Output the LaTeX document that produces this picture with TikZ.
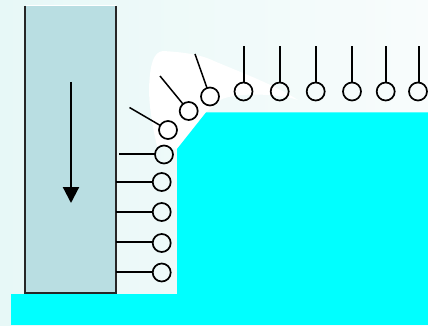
\documentclass[tikz,border=0pt]{standalone}
\usetikzlibrary{arrows.meta}
\definecolor{bgl}{HTML}{E7F8F7}
\definecolor{bgr}{HTML}{F8FCFC}
\definecolor{blockc}{HTML}{B9DEE2}
\definecolor{cyansolid}{HTML}{00FFFF}
\tikzset{
  bead/.style={circle,draw=black,line width=1.7pt,minimum size=18pt,inner sep=0pt,outer sep=0pt},
  tail/.style={draw=black,line width=1.9pt},
  slanted/.style={draw=black,line width=1.5pt},
  edgeline/.style={draw=black!85,line width=1.8pt}
}
\begin{document}
\begin{tikzpicture}[x=1pt,y=-1pt]
\useasboundingbox (0,0) rectangle (428,326);
\shade[left color=bgl,right color=bgr] (0,0) rectangle (428,326);
% white blob
\fill[white] (163,51) .. controls (180,52) and (200,54) .. (214,61)
  .. controls (240,72) and (275,85) .. (298,100)
  .. controls (280,94) and (240,92) .. (222,99)
  -- (205,113) -- (177,149) -- (157,146)
  .. controls (152,125) and (149,105) .. (149,88)
  .. controls (150,65) and (153,52) .. (163,51) -- cycle;
% solids
\fill[cyansolid] (11,294) rectangle (428,325);
\fill[cyansolid] (177,295) -- (177,149) -- (206,112.5) -- (428,112.5) -- (428,295) -- cycle;
% block
\fill[blockc] (25.5,6) rectangle (116,293);
\draw[white,line width=1pt] (25.5,6) -- (116,6);
\draw[edgeline] (25,6) -- (25,293) -- (116,293) -- (116,6);
% arrow
\coordinate (arrowtop) at (71,82);
\coordinate (arrowtip) at (71,203);
\draw[black,line width=2.2pt,-{Triangle[length=16pt,width=16pt]}] (arrowtop) -- (arrowtip);
% beads
\node[bead] (t1) at (243.5,91.5) {};
\node[bead] (t2) at (279.7,91.5) {};
\node[bead] (t3) at (315.7,91.5) {};
\node[bead] (t4) at (352,91.5) {};
\node[bead] (t5) at (385.7,91.5) {};
\node[bead] (t6) at (418,91.5) {};
\node[bead] (a1) at (210,96.5) {};
\node[bead] (a2) at (188.7,111) {};
\node[bead] (a3) at (168,130) {};
\node[bead] (s1) at (164,154.5) {};
\node[bead] (s2) at (161.7,182) {};
\node[bead] (s3) at (161.7,212) {};
\node[bead] (s4) at (161.7,243) {};
\node[bead] (s5) at (161.7,272.5) {};
% tails
\coordinate (e1) at (244,46.5);
\coordinate (e2) at (280,46.5);
\coordinate (e3) at (316,46.5);
\coordinate (e4) at (352,46.5);
\coordinate (e5) at (386,46.5);
\coordinate (e6) at (419,46.5);
\coordinate (f1) at (195,54);
\coordinate (f2) at (160,76);
\coordinate (f3) at (129.5,107.5);
\coordinate (g1) at (119,154);
\coordinate (g2) at (116,182);
\coordinate (g3) at (116,212);
\coordinate (g4) at (116,242);
\coordinate (g5) at (116,272);
\foreach \a/\b in {e1/t1,e2/t2,e3/t3,e4/t4,e5/t5,e6/t6}
  \draw[tail] (\a) -- (\a |- \b.north);
\foreach \a/\b in {g1/s1,g2/s2,g3/s3,g4/s4,g5/s5}
  \draw[tail] (\a) -- (\b.west |- \a);
\foreach \a/\b in {f1/a1,f2/a2,f3/a3}
  \draw[slanted] (\a) -- (\b);
\end{tikzpicture}
\end{document}
